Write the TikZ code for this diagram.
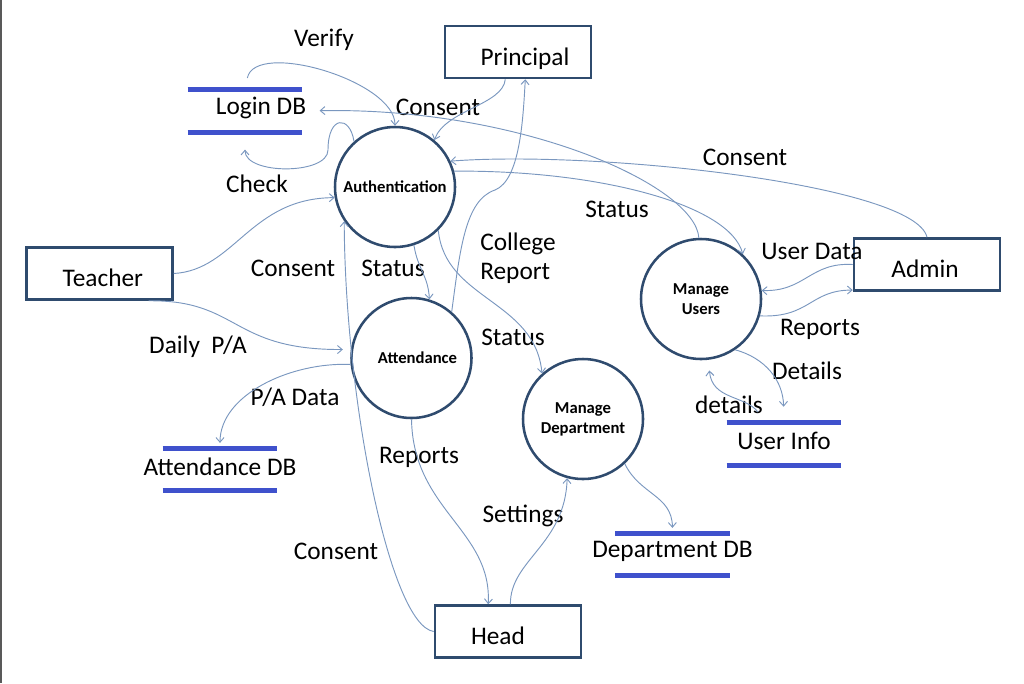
\documentclass[tikz,border=0pt]{standalone}
\usepackage{fontspec}
\setmainfont{Carlito}
\usetikzlibrary{arrows.meta}
\definecolor{boxline}{HTML}{2F4B6E}
\definecolor{flowline}{HTML}{7A97BF}
\definecolor{storeblue}{HTML}{3F51CC}

\begin{document}
\begin{tikzpicture}[x=0.75pt,y=-0.75pt,>={Straight Barb[length=3.5pt,width=6pt]},
   every node/.style={font=\fontsize{19}{22}\selectfont},
   ent/.style={draw=boxline,line width=1.9pt,minimum width=109.5pt,minimum height=39pt,
      text height=19.7pt,text depth=0pt},
   proc/.style={circle,draw=boxline,line width=1.9pt,minimum size=90pt,inner sep=0pt,align=center,
      font=\fontsize{12.5}{15}\selectfont\bfseries},
   store/.style={minimum width=85.5pt,minimum height=31.5pt,inner sep=0pt},
   bar/.style={draw=storeblue,line width=3.6pt},
   flow/.style={->,draw=flowline,line width=0.7pt}]
   \useasboundingbox (0,0) rectangle (1024,683);
   \draw[line width=1.5pt,black!65] (1,0) -- (1,683);

   % external entities
   \node[ent] (pri) at (518,52) {\hspace*{10.5pt}Principal};
   \node[ent] (tea) at (99.5,273.5) {\hspace*{5pt}Teacher};
   \node[ent] (admin) at (927,264.5) {Admin\hspace*{3pt}};
   \node[ent] (head) at (508,631.5) {Head\hspace*{15pt}};

   % processes
   \node[proc] (auth) at (395,187) {Authentication};
   \node[proc] (att) at (411.5,358) {\hspace*{9pt}Attendance};
   \node[proc] (mu) at (701,299) {Manage\\Users};
   \node[proc] (md) at (583,419) {Manage\\Department};

   % data stores
   \node[store,label={[xshift=12pt,yshift=2pt]center:Login DB}] (ldb) at (245,111) {};
   \node[store,label={[yshift=2pt]center:Attendance DB}] (adb) at (220,469.5) {};
   \node[store,label={[yshift=2pt]center:User Info}] (uidb) at (784,444) {};
   \node[store,label={[yshift=2pt]center:Department DB}] (ddb) at (672.5,554.5) {};
   \draw[bar] (ldb.north west) -- (ldb.north east) (ldb.south west) -- (ldb.south east);
   \draw[bar] (adb.north west) -- (adb.north east) (adb.south west) -- (adb.south east);
   \draw[bar] (uidb.north west) -- (uidb.north east) (uidb.south west) -- (uidb.south east);
   \draw[bar] (ddb.north west) -- (ddb.north east) (ddb.south west) -- (ddb.south east);

   % flow labels
   \node (verify) at (324,40) {Verify};
   \node (conpri) at (438,107) {Consent};
   \node (check) at (257,184) {Check};
   \node (conadm) at (745,157) {Consent};
   \node (stamu) at (617,209) {Status};
   \node[align=left] (colrep) at (518,258) {College\\Report};
   \node (contea) at (293,268) {Consent};
   \node (staatt) at (393,268) {Status};
   \node (stamd) at (513,337) {Status};
   \node (udata) at (812,251) {User Data};
   \node (repmu) at (820,329) {Reports};
   \node (daily) at (198,347) {Daily\ \ P/A};
   \node (padata) at (295,397) {P/A Data};
   \node (details) at (807,371) {Details};
   \node (detailsb) at (729,405) {details};
   \node (repatt) at (419,457) {Reports};
   \node (settings) at (523,516) {Settings};
   \node (conhead) at (336,551) {Consent};

   % flows
   \draw[flow,shorten <=9pt] (ldb.north) .. controls +(10,-50) and +(0,-45) .. (auth.north);
   \draw[flow,shorten >=13pt] (auth.132) .. controls (350,115) and (328,115) .. (328,150)
      .. controls (328,175) and (245,175) .. (ldb.south);
   \draw[flow,shorten >=13pt] (mu.92) .. controls (695,185) and (520,107) .. (ldb.east);
   \draw[flow] (auth.15) .. controls (600,170) and (730,205) .. (mu.47);
   \draw[flow] (admin.north) .. controls (915,185) and (600,150) .. (auth.25);
   \draw[flow] (pri.245) .. controls (503,105) and (445,110) .. (auth.50);
   \draw[flow] (att.49) .. controls (460,250) and (465,200) .. (495,190)
      .. controls (520,180) and (523,120) .. (pri.285);
   \draw[flow] (tea.east) .. controls (235,270) and (250,198) .. (auth.190);
   \draw[flow,shorten >=6pt] (tea.-29) .. controls (240,300) and (230,350) .. (att.172);
   \draw[flow,shorten >=4pt] (att.186) .. controls (290,362) and (220,395) .. (adb.north);
   \draw[flow] (auth.-72) .. controls (418,270) and (428,275) .. (att.73);
   \draw[flow] (auth.-45) .. controls (445,300) and (535,300) .. (md.132);
   \draw[flow] (head.west) .. controls (390,625) and (345,400) .. (auth.214);
   \draw[flow] (att.south) .. controls (413,510) and (492,530) .. (head.126);
   \draw[flow] (head.85) .. controls (510,560) and (565,545) .. (md.-105);
   \draw[flow,shorten >=4pt] (md.-47) .. controls (640,495) and (672,495) .. (ddb.north);
   \draw[flow] (admin.west) .. controls (810,262) and (805,292) .. (mu.8);
   \draw[flow] (mu.-16) .. controls (810,318) and (810,290) .. (admin.199);
   \draw[flow,shorten >=12pt] (mu.-56) .. controls (765,358) and (783,380) .. (uidb.north);
   \draw[flow,shorten <=10pt,shorten >=8pt] (uidb.130) .. controls (745,395) and (712,400) .. (mu.-83);
\end{tikzpicture}
\end{document}
